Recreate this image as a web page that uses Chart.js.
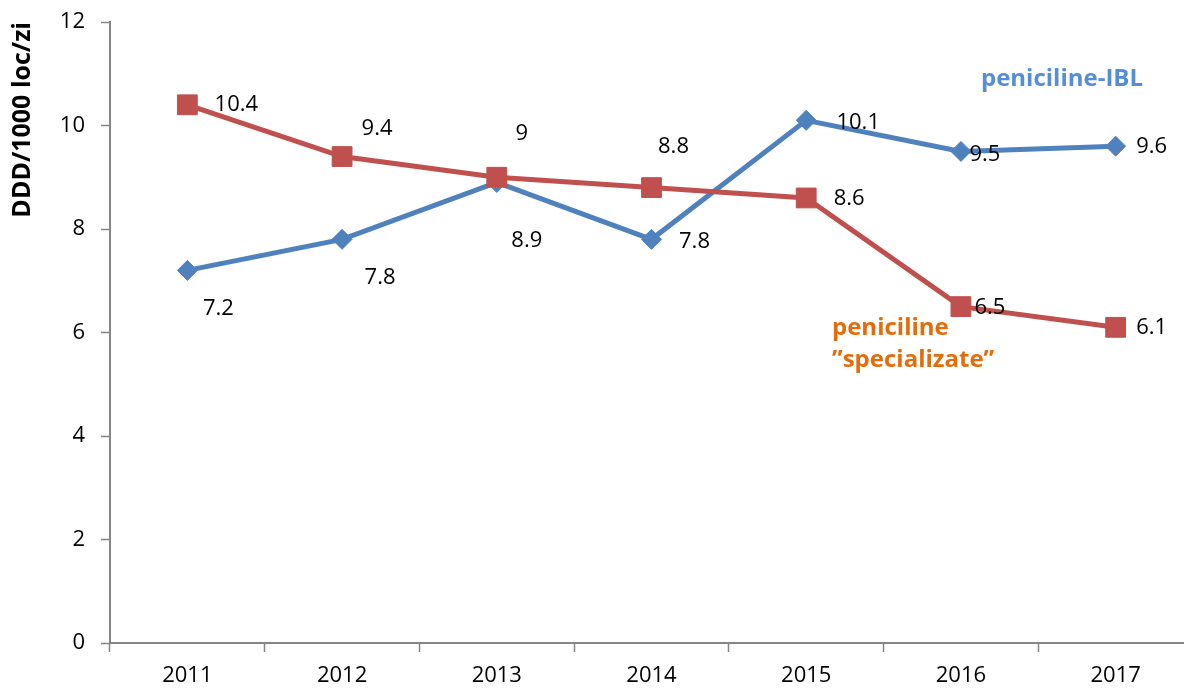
<!DOCTYPE html>
<html>
<head>
<meta charset="utf-8">
<script src="https://cdn.jsdelivr.net/npm/chart.js@4"></script>
<style>
  html, body { margin: 0; padding: 0; background: #fff; overflow: hidden; }
  #wrap { width: 1208px; height: 689px; }
</style>
</head>
<body>
<div id="wrap"><canvas id="ddd" width="1208" height="689"></canvas></div>
<script>
// DDD/1000 loc/zi, 2011-2017
const years = ['2011', '2012', '2013', '2014', '2015', '2016', '2017'];
const ibl = [7.2, 7.8, 8.9, 7.8, 10.1, 9.5, 9.6];
const specializate = [10.4, 9.4, 9, 8.8, 8.6, 6.5, 6.1];
const yTicks = [0, 2, 4, 6, 8, 10, 12];

const FONT = '"Open Sans", "Liberation Sans", sans-serif';

// where each value label sits, relative to its marker (text centre)
const iblLabelOffsets = [[31, 38], [38, 38], [30, 58], [43, 2], [52, 2], [24, 3], [36, 1]];
const specLabelOffsets = [[49, 0], [35, -28], [25, -44], [22, -41], [43, 1], [29, 1], [36, 0]];

const extras = {
  id: 'extras',
  afterDatasetsDraw(chart) {
    const ctx = chart.ctx;
    ctx.save();
    ctx.textAlign = 'center';
    ctx.textBaseline = 'middle';
    ctx.fillStyle = '#000';
    ctx.font = '22px ' + FONT;
    const offs = [iblLabelOffsets, specLabelOffsets];
    chart.data.datasets.forEach((ds, di) => {
      const meta = chart.getDatasetMeta(di);
      meta.data.forEach((pt, i) => {
        const [dx, dy] = offs[di][i];
        ctx.fillText(String(ds.data[i]), pt.x + dx, pt.y + dy);
      });
    });

    // series names
    ctx.font = 'bold 24px ' + FONT;
    ctx.fillStyle = '#558ED5';
    ctx.fillText('peniciline-IBL', 1062, 79);
    ctx.textAlign = 'left';
    ctx.fillStyle = '#E46C0A';
    ctx.fillText('peniciline', 832, 328);
    ctx.fillText('\u201Dspecializate\u201D', 832, 360);

    // axis title
    ctx.translate(23, 22);
    ctx.rotate(-Math.PI / 2);
    ctx.textAlign = 'right';
    ctx.fillStyle = '#000';
    ctx.font = 'bold 25px ' + FONT;
    ctx.fillText('DDD/1000 loc/zi', 0, 0);
    ctx.restore();
  }
};

new Chart(document.getElementById('ddd'), {
  type: 'line',
  data: {
    labels: years,
    datasets: [
      {
        label: 'peniciline-IBL',
        data: ibl,
        borderColor: '#4F81BD',
        backgroundColor: '#4F81BD',
        borderWidth: 5,
        pointStyle: 'rectRot',
        pointRadius: 10,
        pointBorderWidth: 1,
        tension: 0,
        order: 1
      },
      {
        label: 'peniciline "specializate"',
        data: specializate,
        borderColor: '#C0504D',
        backgroundColor: '#C0504D',
        borderWidth: 5,
        pointStyle: 'rect',
        pointRadius: 14,
        pointBorderWidth: 1,
        tension: 0,
        order: 0
      }
    ]
  },
  options: {
    responsive: false,
    animation: false,
    layout: { padding: { left: 0, top: 22, right: 7, bottom: 0 } },
    plugins: {
      legend: { display: false },
      tooltip: { enabled: false }
    },
    scales: {
      x: {
        offset: true,
        grid: {
          offset: true,
          drawOnChartArea: false,
          tickLength: 9,
          tickColor: '#868686',
          tickWidth: 1.5
        },
        border: { color: '#868686', width: 2 },
        ticks: { color: '#000', font: { family: FONT, size: 22 }, padding: 11, maxRotation: 0 },
        afterFit(scale) { scale.height = 46; }
      },
      y: {
        min: 0,
        max: 12,
        afterBuildTicks(scale) { scale.ticks = yTicks.map(v => ({ value: v })); },
        grid: {
          drawOnChartArea: false,
          tickLength: 9,
          tickColor: '#868686',
          tickWidth: 1.5
        },
        border: { color: '#868686', width: 2 },
        ticks: { color: '#000', font: { family: FONT, size: 22 }, padding: 16 },
        afterFit(scale) {
          scale.width = 110;
          scale.paddingTop = 0;
          scale.paddingBottom = 0;
        }
      }
    }
  },
  plugins: [extras]
});
</script>
</body>
</html>
